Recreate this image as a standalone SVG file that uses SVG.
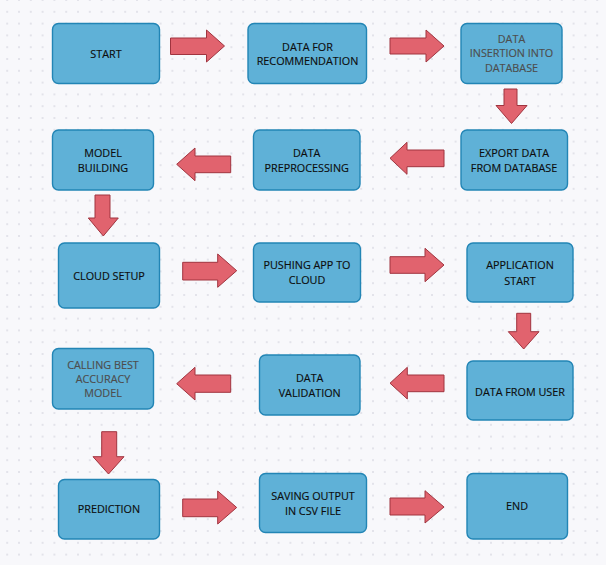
<svg xmlns="http://www.w3.org/2000/svg" width="606" height="565" viewBox="0 0 606 565">
<style>
.box{fill:#5fb1d7;stroke:#2285b5;stroke-width:1.4}
.t{font-family:"Open Sans","Noto Sans","Liberation Sans",sans-serif;font-size:10.8px;fill:#0d0d0d;text-anchor:middle;stroke:#0d0d0d;stroke-width:0.15}
.g{fill:#4d4d4d;stroke:#4d4d4d}
.arr{fill:#e1636e;stroke:#a0343f;stroke-width:1;stroke-linejoin:miter}
</style>
<defs>
<pattern id="dots" x="7.2" y="0" width="11.8" height="11.8" patternUnits="userSpaceOnUse">
<circle cx="0" cy="0" r="0.9" fill="#d9d9e2"/>
<circle cx="11.8" cy="0" r="0.9" fill="#d9d9e2"/>
<circle cx="0" cy="11.8" r="0.9" fill="#d9d9e2"/>
<circle cx="11.8" cy="11.8" r="0.9" fill="#d9d9e2"/>
</pattern>
</defs>
<rect width="606" height="565" fill="#f8f8fb"/>
<rect width="606" height="565" fill="url(#dots)"/>

<g id="connectors">
<polygon class="arr" points="170.5,38 206.5,38 206.5,30 224.5,46 206.5,62 206.5,54.5 170.5,54.5"/>
<polygon class="arr" points="390,38 426,38 426,30 444,46 426,62 426,54 390,54"/>
<polygon class="arr" points="504,89 517,89 517,105.5 527,105.5 511.5,123.5 496,105.5 504,105.5"/>
<polygon class="arr" points="444,150 407,150 407,142.3 390,158.3 407,174.3 407,166.7 444,166.7"/>
<polygon class="arr" points="230.7,156 195,156 195,148 176.7,164.3 195,180.7 195,172.7 230.7,172.7"/>
<polygon class="arr" points="95,195 110,195 110,218 118.3,218 103.3,236 88.3,218 95,218"/>
<polygon class="arr" points="182.7,262.3 217.7,262.3 217.7,254 236.7,270.7 217.7,287.3 217.7,280 182.7,280"/>
<polygon class="arr" points="390,256.7 425,256.7 425,248.3 444,265 425,281.7 425,273.3 390,273.3"/>
<polygon class="arr" points="516.7,313.3 530.7,313.3 530.7,331.7 539,331.7 523.7,349 508.3,331.7 516.7,331.7"/>
<polygon class="arr" points="444,375 407.3,375 407.3,367.3 390,383.2 407.3,399 407.3,391.7 444,391.7"/>
<polygon class="arr" points="230.7,375 195,375 195,367.3 176.7,383.7 195,400 195,392.3 230.7,392.3"/>
<polygon class="arr" points="101.7,431.7 116.7,431.7 116.7,456.7 124,456.7 108.5,474 93,456.7 101.7,456.7"/>
<polygon class="arr" points="182.7,499 217.7,499 217.7,491 236.7,507.5 217.7,524 217.7,516.7 182.7,516.7"/>
<polygon class="arr" points="390,498 425,498 425,490.7 444,507 425,523 425,515 390,515"/>
</g>

<g id="start"><rect class="box" x="52.5" y="23.5" width="107" height="60" rx="6"/><text class="t" x="106" y="58">START</text></g>
<g id="data-for-recommendation"><rect class="box" x="248" y="23.5" width="118.5" height="60" rx="6"/><text class="t" x="307.5" y="51">DATA FOR</text><text class="t" x="307.5" y="65">RECOMMENDATION</text></g>
<g id="data-insertion"><rect class="box" x="461" y="23.5" width="101" height="60" rx="6"/><text class="t g" x="511.5" y="43">DATA</text><text class="t g" x="511.5" y="57.3">INSERTION INTO</text><text class="t g" x="511.5" y="71.6">DATABASE</text></g>

<g id="model-building"><rect class="box" x="52.5" y="130" width="101" height="60" rx="6"/><text class="t" x="103" y="157.3">MODEL</text><text class="t" x="103" y="171.7">BUILDING</text></g>
<g id="data-preprocessing"><rect class="box" x="253.5" y="130" width="106.5" height="60" rx="6"/><text class="t" x="306.7" y="157.3">DATA</text><text class="t" x="306.7" y="171.7">PREPROCESSING</text></g>
<g id="export-data"><rect class="box" x="461" y="130" width="106.5" height="60" rx="6"/><text class="t" x="514" y="157.3">EXPORT DATA</text><text class="t" x="514" y="171.7">FROM DATABASE</text></g>

<g id="cloud-setup"><rect class="box" x="58.5" y="243" width="101" height="65" rx="6"/><text class="t" x="109" y="280">CLOUD SETUP</text></g>
<g id="pushing-app"><rect class="box" x="253.5" y="243" width="107" height="59" rx="6"/><text class="t" x="307" y="269">PUSHING APP TO</text><text class="t" x="307" y="284">CLOUD</text></g>
<g id="application-start"><rect class="box" x="467" y="243" width="106" height="59" rx="6"/><text class="t" x="520" y="269">APPLICATION</text><text class="t" x="520" y="284.7">START</text></g>

<g id="calling-best"><rect class="box" x="52.5" y="348.5" width="101" height="60.5" rx="6"/><text class="t g" x="103" y="369">CALLING BEST</text><text class="t g" x="103" y="383.3">ACCURACY</text><text class="t g" x="103" y="397.3">MODEL</text></g>
<g id="data-validation"><rect class="box" x="259.5" y="355" width="100.5" height="60" rx="6"/><text class="t" x="309.7" y="382.3">DATA</text><text class="t" x="309.7" y="396.7">VALIDATION</text></g>
<g id="data-from-user"><rect class="box" x="467" y="361" width="106" height="59" rx="6"/><text class="t" x="520" y="395.7">DATA FROM USER</text></g>

<g id="prediction"><rect class="box" x="58.5" y="479.5" width="101" height="59.5" rx="6"/><text class="t" x="109" y="513.3">PREDICTION</text></g>
<g id="saving-output"><rect class="box" x="259.5" y="473.5" width="107" height="59" rx="6"/><text class="t" x="313" y="500">SAVING OUTPUT</text><text class="t" x="313" y="515">IN CSV FILE</text></g>
<g id="end"><rect class="box" x="467" y="473.5" width="100.5" height="65.5" rx="6"/><text class="t" x="517" y="510">END</text></g>
</svg>
